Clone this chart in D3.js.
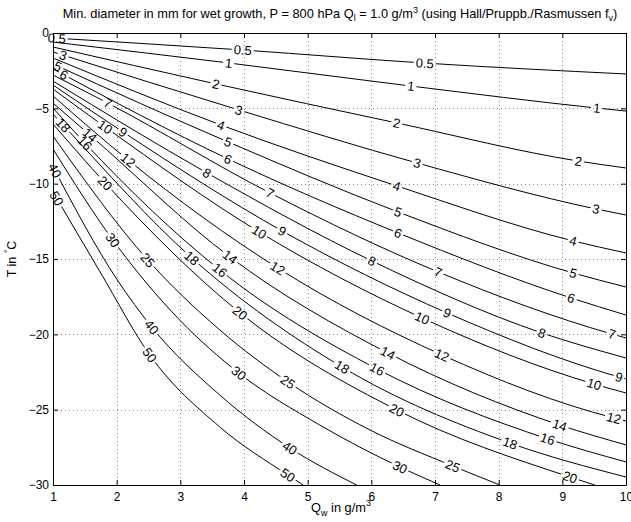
<!DOCTYPE html>
<html>
<head>
<meta charset="utf-8">
<script src="https://cdn.jsdelivr.net/npm/d3@7"></script>
<style>
  body { margin: 0; background: #fff; }
  svg text { font-family: "Liberation Sans", Arial, Helvetica, sans-serif; fill: #000; }
</style>
</head>
<body>
<svg id="chart" width="631" height="522"></svg>
<script>
// Contour levels: minimum hailstone diameter (mm) for wet growth
const levels = [0.5, 1, 2, 3, 4, 5, 6, 7, 8, 9, 10, 12, 14, 16, 18, 20, 25, 30, 40, 50];

// Vertices of each contour as [Qw in g/m^3, T in °C], in the same order as levels
const contourLines = [
  [[1, -0.33], [3.98, -1.13], [6.85, -2.00], [10, -2.72]],
  [[1, -0.60], [3.76, -1.99], [6.62, -3.52], [9.54, -4.98], [10, -5.18]],
  [[1, -0.93], [3.56, -3.38], [6.40, -5.97], [9.25, -8.50], [10, -8.96]],
  [[1, -1.26], [3.92, -5.11], [6.72, -8.63], [9.53, -11.68], [10, -12.08]],
  [[1, -1.66], [3.64, -6.11], [6.40, -10.15], [9.17, -13.80], [10, -14.60]],
  [[1, -2.06], [3.75, -7.23], [6.42, -11.88], [9.17, -15.93], [10, -16.86]],
  [[1, -2.39], [3.75, -8.36], [6.42, -13.27], [9.14, -17.59], [10, -18.72]],
  [[1, -2.79], [1.86, -4.65], [4.41, -10.62], [7.05, -15.86], [9.78, -19.98], [10, -20.24]],
  [[1, -3.19], [3.42, -9.29], [6.01, -15.13], [8.68, -19.91], [10, -21.57]],
  [[1, -3.45], [2.10, -6.57], [4.60, -13.14], [7.19, -18.58], [9.89, -22.83], [10, -22.96]],
  [[1, -3.72], [1.82, -6.24], [4.24, -13.21], [6.80, -18.92], [9.50, -23.30], [10, -23.89]],
  [[1, -4.18], [2.18, -8.43], [4.53, -15.60], [7.11, -21.37], [9.81, -25.55], [10, -25.75]],
  [[1, -4.65], [1.58, -6.77], [3.78, -14.87], [6.26, -21.24], [8.96, -26.02], [10, -27.34]],
  [[1, -4.98], [1.50, -7.30], [3.62, -15.73], [6.09, -22.30], [8.77, -26.94], [10, -28.47]],
  [[1, -5.38], [1.16, -6.11], [3.18, -14.93], [5.54, -22.17], [8.18, -27.22], [10, -29.47]],
  [[1, -6.04], [1.82, -9.96], [3.94, -18.58], [6.40, -25.02], [9.12, -29.47], [9.51, -30]],
  [[1, -6.84], [2.49, -15.07], [3.62, -19.71], [4.69, -23.16], [5.98, -26.35], [7.28, -28.74], [8.02, -30]],
  [[1, -7.70], [1.94, -13.74], [2.99, -19.05], [3.92, -22.57], [5.19, -26.02], [6.45, -28.81], [7.08, -30]],
  [[1, -8.89], [2.01, -16.39], [2.55, -19.51], [3.62, -24.03], [4.72, -27.54], [5.77, -30]],
  [[1, -10.55], [1.74, -15.86], [2.52, -21.37], [3.62, -26.15], [4.69, -29.34], [4.93, -30]]
];

// Qw positions of the inline level labels on each contour
const labelQw = [
  [1.06, 3.98, 6.84],
  [3.76, 6.62, 9.54],
  [3.56, 6.40, 9.25],
  [1.16, 3.92, 6.72, 9.53],
  [3.64, 6.40, 9.17],
  [1.08, 3.75, 6.42, 9.17],
  [1.17, 3.75, 6.42, 9.14],
  [1.86, 4.41, 7.05, 9.78],
  [3.42, 6.01, 8.68],
  [2.10, 4.60, 7.19, 9.89],
  [1.82, 4.24, 6.80, 9.50],
  [2.18, 4.53, 7.11, 9.81],
  [1.58, 3.78, 6.26, 8.96],
  [1.50, 3.62, 6.09, 8.77],
  [1.16, 3.18, 5.54, 8.18],
  [1.82, 3.94, 6.40, 9.12],
  [2.49, 4.69, 7.28],
  [1.94, 3.92, 6.45],
  [1.03, 2.55, 4.72],
  [1.06, 2.52, 4.69]
];

const xTicks = [1, 2, 3, 4, 5, 6, 7, 8, 9, 10];
const xTickLabels = ["1", "2", "3", "4", "5", "6", "7", "8", "9", "10"];
const yTicks = [0, -5, -10, -15, -20, -25, -30];
const yTickLabels = ["0", "\u22125", "\u221210", "\u221215", "\u221220", "\u221225", "\u221230"];

const W = 631, H = 522;
const plot = { left: 53, right: 626, top: 33, bottom: 485 };

const svg = d3.select("#chart");
const x = d3.scaleLinear().domain([1, 10]).range([plot.left, plot.right]);
const y = d3.scaleLinear().domain([0, -30]).range([plot.top, plot.bottom]);

const defs = svg.append("defs");
defs.append("clipPath").attr("id", "plot-clip")
  .append("rect")
  .attr("x", plot.left).attr("y", plot.top)
  .attr("width", plot.right - plot.left).attr("height", plot.bottom - plot.top);

// Dotted grid
const grid = svg.append("g")
  .attr("stroke", "#8c8c8c").attr("stroke-width", 1).attr("stroke-dasharray", "1,3");
grid.selectAll("line.vx").data(xTicks.slice(1, -1)).join("line")
  .attr("x1", d => Math.round(x(d)) + 0.5).attr("x2", d => Math.round(x(d)) + 0.5)
  .attr("y1", plot.top).attr("y2", plot.bottom);
grid.selectAll("line.hy").data(yTicks.slice(1, -1)).join("line")
  .attr("y1", d => Math.round(y(d)) + 0.5).attr("y2", d => Math.round(y(d)) + 0.5)
  .attr("x1", plot.left).attr("x2", plot.right);

// Contour lines, each with its own mask that opens a gap under its labels
const lineGen = d3.line().x(d => x(d[0])).y(d => y(d[1])).curve(d3.curveMonotoneX);
const contourGroup = svg.append("g").attr("clip-path", "url(#plot-clip)");
const labelGroup = svg.append("g").attr("font-size", 13);

contourLines.forEach((pts, i) => {
  const maskId = "gap-" + i;
  const mask = defs.append("mask").attr("id", maskId)
    .attr("maskUnits", "userSpaceOnUse")
    .attr("x", 0).attr("y", 0).attr("width", W).attr("height", H);
  mask.append("rect").attr("x", 0).attr("y", 0).attr("width", W).attr("height", H).attr("fill", "#fff");

  const path = contourGroup.append("path")
    .attr("d", lineGen(pts))
    .attr("fill", "none").attr("stroke", "#000").attr("stroke-width", 1)
    .attr("mask", `url(#${maskId})`);

  const node = path.node();
  const total = node.getTotalLength();

  labelQw[i].forEach(q => {
    const tx = x(q);
    let lo = 0, hi = total;
    for (let k = 0; k < 40; k++) {
      const mid = (lo + hi) / 2;
      if (node.getPointAtLength(mid).x < tx) lo = mid; else hi = mid;
    }
    const s = (lo + hi) / 2;
    const p = node.getPointAtLength(s);
    const a = node.getPointAtLength(Math.max(0, s - 5));
    const b = node.getPointAtLength(Math.min(total, s + 5));
    const ang = Math.atan2(b.y - a.y, b.x - a.x) * 180 / Math.PI;
    const tr = `translate(${p.x},${p.y}) rotate(${ang})`;

    const t = labelGroup.append("text")
      .attr("transform", tr)
      .attr("text-anchor", "middle")
      .attr("dy", "0.36em")
      .text(String(levels[i]));
    const w = t.node().getComputedTextLength();
    mask.append("rect")
      .attr("x", -w / 2 - 2).attr("y", -6)
      .attr("width", w + 4).attr("height", 12)
      .attr("transform", tr)
      .attr("fill", "#000");
  });
});

// Axes with inward ticks on all four sides
function styleAxis(g) {
  g.selectAll(".domain").attr("stroke", "#000").attr("stroke-width", 1);
  g.selectAll(".tick line").attr("stroke", "#000");
  g.selectAll(".tick text").attr("font-size", 12).attr("fill", "#000");
  g.attr("font-family", null);
}
svg.append("g").attr("transform", `translate(0,${plot.bottom})`)
  .call(d3.axisBottom(x).tickValues(xTicks).tickFormat((d, i) => xTickLabels[i])
    .tickSize(-5).tickSizeOuter(0).tickPadding(7))
  .call(styleAxis);
svg.append("g").attr("transform", `translate(0,${plot.top})`)
  .call(d3.axisTop(x).tickValues(xTicks).tickFormat(() => "")
    .tickSize(-5).tickSizeOuter(0))
  .call(styleAxis);
svg.append("g").attr("transform", `translate(${plot.left},0)`)
  .call(d3.axisLeft(y).tickValues(yTicks).tickFormat((d, i) => yTickLabels[i])
    .tickSize(-5).tickSizeOuter(0).tickPadding(4))
  .call(styleAxis);
svg.append("g").attr("transform", `translate(${plot.right},0)`)
  .call(d3.axisRight(y).tickValues(yTicks).tickFormat(() => "")
    .tickSize(-5).tickSizeOuter(0))
  .call(styleAxis);

// Title
const title = svg.append("text")
  .attr("x", 340).attr("y", 18)
  .attr("text-anchor", "middle").attr("font-size", 12.8);
title.append("tspan").text("Min. diameter in mm for wet growth, P = 800 hPa Q");
title.append("tspan").attr("font-size", 9).attr("dy", 3).text("l");
title.append("tspan").attr("dy", -3).text(" = 1.0 g/m");
title.append("tspan").attr("font-size", 9).attr("dy", -5).text("3");
title.append("tspan").attr("dy", 5).text(" (using Hall/Pruppb./Rasmussen f");
title.append("tspan").attr("font-size", 9).attr("dy", 3).text("v");
title.append("tspan").attr("dy", -3).text(")");

// X axis label
const xl = svg.append("text")
  .attr("x", 341).attr("y", 512)
  .attr("text-anchor", "middle").attr("font-size", 12.8);
xl.append("tspan").text("Q");
xl.append("tspan").attr("font-size", 9).attr("dy", 4).text("w");
xl.append("tspan").attr("dy", -4).text(" in g/m");
xl.append("tspan").attr("font-size", 9).attr("dy", -6).text("3");

// Y axis label
const yl = svg.append("text")
  .attr("transform", `translate(16,259) rotate(-90)`)
  .attr("text-anchor", "middle").attr("font-size", 12.5);
yl.append("tspan").text("T in ");
yl.append("tspan").attr("font-size", 9).attr("dy", -5).text("\u00b0");
yl.append("tspan").attr("dy", 5).text("C");
</script>
</body>
</html>
